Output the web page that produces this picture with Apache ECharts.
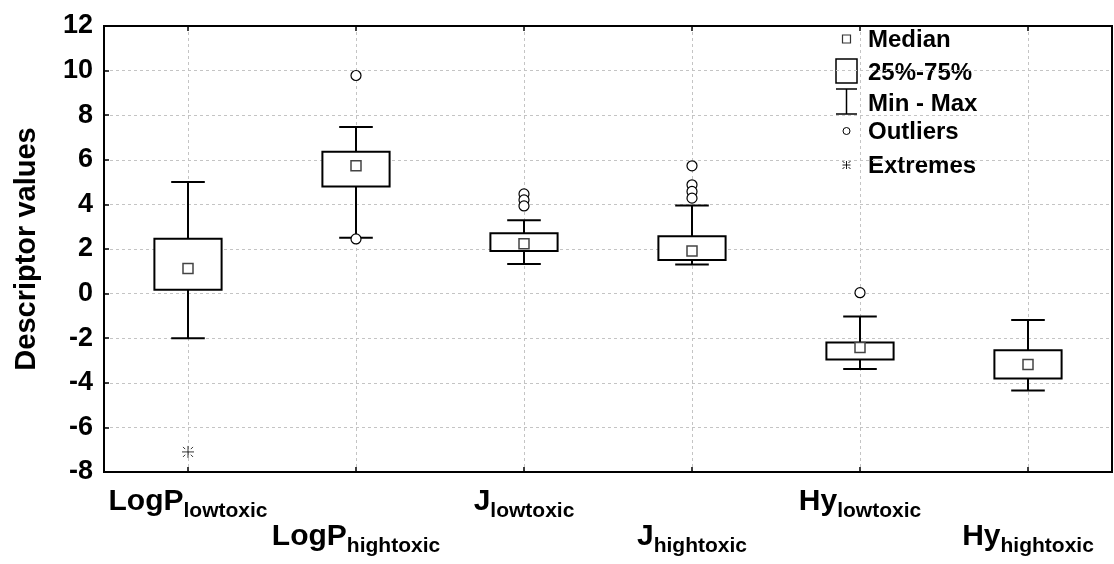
<!DOCTYPE html>
<html>
<head>
<meta charset="utf-8">
<script src="https://cdn.jsdelivr.net/npm/echarts@6/dist/echarts.min.js"></script>
<style>
html,body{margin:0;padding:0;background:#fff;}
#chart{width:1114px;height:564px;}
</style>
</head>
<body>
<div id="chart"></div>
<script>
// ---- data ----
const catMain = ['LogP', 'LogP', 'J', 'J', 'Hy', 'Hy'];
const catSub = ['lowtoxic', 'hightoxic', 'lowtoxic', 'hightoxic', 'lowtoxic', 'hightoxic'];
const categories = ['LogP lowtoxic', 'LogP hightoxic', 'J lowtoxic', 'J hightoxic', 'Hy lowtoxic', 'Hy hightoxic'];
const boxMin = [-2.0, 2.5, 1.33, 1.31, -3.38, -4.34];
const boxQ1 = [0.17, 4.8, 1.91, 1.51, -2.96, -3.81];
const boxMedian = [1.13, 5.73, 2.24, 1.91, -2.42, -3.18];
const boxQ3 = [2.46, 6.36, 2.71, 2.57, -2.19, -2.54];
const boxMax = [5.0, 7.47, 3.29, 3.95, -1.03, -1.18];
const outlierCat = [1, 1, 2, 2, 2, 3, 3, 3, 3, 4];
const outlierVal = [9.78, 2.45, 4.47, 4.2, 3.93, 5.73, 4.88, 4.58, 4.28, 0.04];
const extremeCat = [0];
const extremeVal = [-7.1];
const yTicks = [-8, -6, -4, -2, 0, 2, 4, 6, 8, 10, 12];
const legendLabels = ['Median', '25%-75%', 'Min - Max', 'Outliers', 'Extremes'];

const FONT = '"Liberation Sans", Arial, sans-serif';
const extremePath = 'path://M6 0 L6 12 M0 6 L12 6 M1 1 L3.2 3.2 M11 1 L8.8 3.2 M1 11 L3.2 8.8 M11 11 L8.8 8.8';

const boxData = categories.map((c, i) => [i, boxMin[i], boxQ1[i], boxMedian[i], boxQ3[i], boxMax[i]]);

function renderBox(params, api) {
  const i = api.value(0);
  const cx = api.coord([i, 0])[0];
  const band = api.size([1, 0])[0];
  const bw = band * 0.4;
  const cw = band * 0.2;
  const yMin = api.coord([i, api.value(1)])[1];
  const yQ1 = api.coord([i, api.value(2)])[1];
  const yQ3 = api.coord([i, api.value(4)])[1];
  const yMax = api.coord([i, api.value(5)])[1];
  const ls = { stroke: '#000', lineWidth: 2, fill: null };
  return {
    type: 'group',
    children: [
      { type: 'line', shape: { x1: cx, y1: yQ3, x2: cx, y2: yMax }, style: ls },
      { type: 'line', shape: { x1: cx - cw / 2, y1: yMax, x2: cx + cw / 2, y2: yMax }, style: ls },
      { type: 'line', shape: { x1: cx, y1: yQ1, x2: cx, y2: yMin }, style: ls },
      { type: 'line', shape: { x1: cx - cw / 2, y1: yMin, x2: cx + cw / 2, y2: yMin }, style: ls },
      { type: 'rect', shape: { x: cx - bw / 2, y: yQ3, width: bw, height: yQ1 - yQ3 }, style: { stroke: '#000', lineWidth: 2, fill: '#fff' } }
    ]
  };
}

const chart = echarts.init(document.getElementById('chart'), null, { renderer: 'canvas' });

const lx = 846.5;
const ex = 165;
const thin = { stroke: '#000', lineWidth: 0.9 };
const legendGraphics = [
  { type: 'rect', shape: { x: lx - 4, y: 35, width: 8, height: 8 }, style: { fill: '#fff', stroke: '#333', lineWidth: 1.2 } },
  { type: 'rect', shape: { x: lx - 10.5, y: 59, width: 21, height: 24 }, style: { fill: '#fff', stroke: '#000', lineWidth: 1.5 } },
  { type: 'line', shape: { x1: lx, y1: 89, x2: lx, y2: 114 }, style: { stroke: '#000', lineWidth: 1.5 } },
  { type: 'line', shape: { x1: lx - 10.5, y1: 89, x2: lx + 10.5, y2: 89 }, style: { stroke: '#000', lineWidth: 1.5 } },
  { type: 'line', shape: { x1: lx - 10.5, y1: 114, x2: lx + 10.5, y2: 114 }, style: { stroke: '#000', lineWidth: 1.5 } },
  { type: 'circle', shape: { cx: lx, cy: 131, r: 3.5 }, style: { fill: '#fff', stroke: '#000', lineWidth: 1 } },
  { type: 'line', shape: { x1: lx, y1: ex - 4, x2: lx, y2: ex + 4 }, style: thin },
  { type: 'line', shape: { x1: lx - 4, y1: ex, x2: lx + 4, y2: ex }, style: thin },
  { type: 'line', shape: { x1: lx - 4, y1: ex - 4, x2: lx - 2, y2: ex - 2 }, style: thin },
  { type: 'line', shape: { x1: lx + 4, y1: ex - 4, x2: lx + 2, y2: ex - 2 }, style: thin },
  { type: 'line', shape: { x1: lx - 4, y1: ex + 4, x2: lx - 2, y2: ex + 2 }, style: thin },
  { type: 'line', shape: { x1: lx + 4, y1: ex + 4, x2: lx + 2, y2: ex + 2 }, style: thin }
];
const legendY = [40, 73, 104, 132, 166];
legendLabels.forEach((t, k) => {
  legendGraphics.push({
    type: 'text', x: 868, y: legendY[k],
    style: { text: t, font: 'bold 24px ' + FONT, fill: '#000', verticalAlign: 'middle', align: 'left' }
  });
});

const option = {
  backgroundColor: '#fff',
  animation: false,
  grid: { left: 104, right: 2, top: 26, bottom: 92, outerBoundsMode: 'none', containLabel: false, show: true, borderColor: '#000', borderWidth: 2, backgroundColor: 'transparent' },
  xAxis: [{
    type: 'category',
    data: categories,
    boundaryGap: true,
    axisLine: { show: true, onZero: false, lineStyle: { color: '#000', width: 2 } },
    axisTick: { show: true, alignWithLabel: true, inside: true, length: 5, lineStyle: { color: '#000', width: 1.5 } },
    splitLine: { show: true, alignWithLabel: true, lineStyle: { color: '#c4c4c4', type: [3, 3], width: 1 } },
    axisLabel: {
      interval: 0,
      margin: 9,
      formatter: function (v) {
        const i = categories.indexOf(v);
        if (i % 2 === 0) return '{m|' + catMain[i] + '}{s|' + catSub[i] + '}';
        return '{m2|' + catMain[i] + '}{s2|' + catSub[i] + '}';
      },
      rich: {
        m: { fontFamily: FONT, fontWeight: 'bold', fontSize: 30, color: '#000', padding: [0, 0, 0, 0] },
        s: { fontFamily: FONT, fontWeight: 'bold', fontSize: 21, color: '#000', padding: [20, 0, 0, 0] },
        m2: { fontFamily: FONT, fontWeight: 'bold', fontSize: 30, color: '#000', padding: [35, 0, 0, 0] },
        s2: { fontFamily: FONT, fontWeight: 'bold', fontSize: 21, color: '#000', padding: [55, 0, 0, 0] }
      }
    }
  }, {
    type: 'category',
    data: categories,
    position: 'top',
    boundaryGap: true,
    axisLine: { show: true, onZero: false, lineStyle: { color: '#000', width: 2 } },
    axisTick: { show: true, alignWithLabel: true, inside: true, length: 5, lineStyle: { color: '#000', width: 1.5 } },
    axisLabel: { show: false },
    splitLine: { show: false }
  }],
  yAxis: {
    type: 'value',
    min: -8, max: 12, interval: 2,
    name: 'Descriptor values',
    nameLocation: 'middle',
    nameGap: 63,
    nameTextStyle: { fontFamily: FONT, fontWeight: 'bold', fontSize: 29, color: '#000' },
    axisLine: { show: true, onZero: false, lineStyle: { color: '#000', width: 2 } },
    axisTick: { show: true, inside: true, length: 5, lineStyle: { color: '#000', width: 1.5 } },
    axisLabel: {
      margin: 11,
      fontFamily: FONT, fontWeight: 'bold', fontSize: 27, color: '#000',
      formatter: function (v) { return yTicks.indexOf(v) >= 0 ? String(v) : ''; }
    },
    splitLine: { show: true, lineStyle: { color: '#c4c4c4', type: [3, 3], width: 1 } }
  },
  series: [
    {
      name: '25%-75%',
      type: 'custom',
      renderItem: renderBox,
      encode: { x: 0, y: [1, 2, 3, 4, 5] },
      data: boxData,
      z: 2
    },
    {
      name: 'Median',
      type: 'scatter',
      symbol: 'rect',
      symbolSize: 10,
      data: categories.map((c, i) => [i, boxMedian[i]]),
      itemStyle: { color: '#fff', borderColor: '#444', borderWidth: 1.5, opacity: 1 },
      z: 3
    },
    {
      name: 'Outliers',
      type: 'scatter',
      symbol: 'circle',
      symbolSize: 10,
      data: outlierCat.map((c, k) => [c, outlierVal[k]]),
      itemStyle: { color: '#fff', borderColor: '#000', borderWidth: 1.2, opacity: 1 },
      z: 4
    },
    {
      name: 'Extremes',
      type: 'scatter',
      symbol: extremePath,
      symbolSize: 12,
      data: extremeCat.map((c, k) => [c, extremeVal[k]]),
      itemStyle: { color: 'rgba(0,0,0,0)', borderColor: '#000', borderWidth: 1 },
      z: 4
    }
  ],
  graphic: legendGraphics
};
chart.setOption(option);
</script>
</body>
</html>
